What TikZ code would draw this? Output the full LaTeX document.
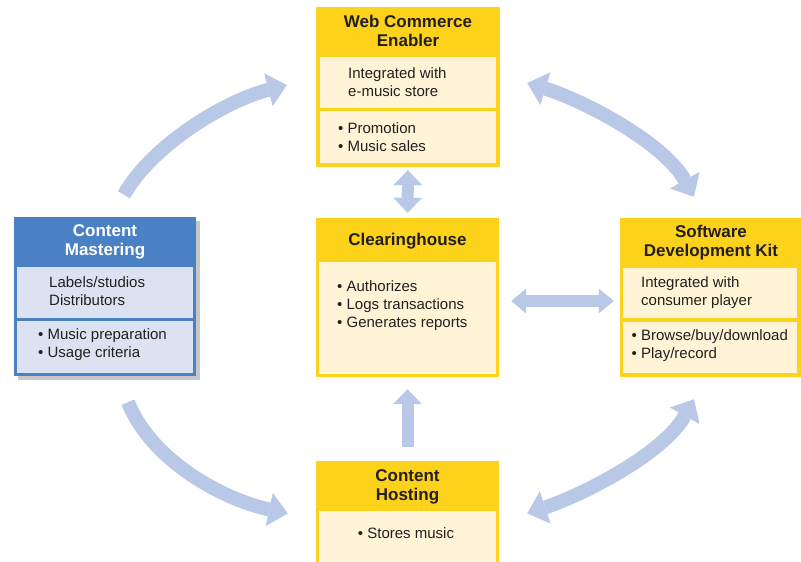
\documentclass[tikz,border=0pt]{standalone}
\usepackage{fontspec}
\setmainfont{Liberation Sans}
\usetikzlibrary{arrows.meta,positioning}

\definecolor{ylw}{HTML}{FDD21B}
\definecolor{cream}{HTML}{FFF4D6}
\definecolor{mblue}{HTML}{4A80C4}
\definecolor{lblue}{HTML}{DCE2F2}
\definecolor{arrowblue}{HTML}{B9C8E6}
\definecolor{ink}{HTML}{231F20}

\tikzset{
  box/.style={fill=ylw, inner sep=0pt},
  sec/.style={fill=cream, inner sep=0pt},
  hdr/.style={font=\fontsize{17}{19}\selectfont\bfseries, align=center, text=ink, inner sep=0pt},
  txt/.style={font=\fontsize{15}{18}\selectfont, align=left, text=ink, inner sep=0pt, anchor=west},
  cflow/.style={draw=arrowblue, line width=14pt, >={Triangle[width=34pt,length=19pt,line width=0pt]}},
  sflow/.style={draw=arrowblue, line width=12pt, >={Triangle[width=29pt,length=15pt,line width=0pt]}}
}

\begin{document}
\begin{tikzpicture}[x=1pt,y=-1pt]
    \useasboundingbox (0,0) rectangle (801,562);
    % web commerce enabler
    \node[box, minimum width=184pt, minimum height=160pt] (web) at (408,87) {};
    \node[hdr] (webH) at (408,31) {Web Commerce\\Enabler};
    \node[sec, minimum width=176pt, minimum height=51pt] (webA) at (408,82.5) {};
    \node[sec, minimum width=176pt, minimum height=52pt] (webB) at (408,137) {};
    \node[txt] (webAt) at (348,82) {Integrated with\\e-music store};
    \node[txt] (webBt) at (338,137) {• Promotion\\• Music sales};
    % clearinghouse
    \node[box, minimum width=183pt, minimum height=159pt] (clr) at (407.5,297.5) {};
    \node[hdr] (clrH) at (407.5,241) {Clearinghouse};
    \node[sec, minimum width=177pt, minimum height=112pt] (clrA) at (407.5,318) {};
    \node[txt] (clrAt) at (337,306) {• Authorizes\\• Logs transactions\\• Generates reports};
    % content hosting
    \node[box, minimum width=183pt, minimum height=105pt] (host) at (407.5,513.5) {};
    \node[hdr] (hostH) at (407.5,486.5) {Content\\Hosting};
    \node[sec, minimum width=177pt, minimum height=55pt] (hostA) at (407.5,538.5) {};
    \node[txt, anchor=center] (hostAt) at (406,533) {• Stores music};
    % software development kit
    \node[box, minimum width=182pt, minimum height=159pt] (sdk) at (711,297.5) {};
    \node[hdr] (sdkH) at (711,242.5) {Software\\Development Kit};
    \node[sec, minimum width=174pt, minimum height=50pt] (sdkA) at (710,293) {};
    \node[sec, minimum width=174pt, minimum height=51pt] (sdkB) at (710,347.5) {};
    \node[txt] (sdkAt) at (641,293) {Integrated with\\consumer player};
    \node[txt] (sdkBt) at (631.5,345.5) {• Browse/buy/download\\• Play/record};
    % content mastering, with its shadow
    \node[box, fill=black!22, minimum width=182pt, minimum height=159pt] (mastS) at (109,300.5) {};
    \node[box, fill=mblue, minimum width=182pt, minimum height=159pt] (mast) at (105,296.5) {};
    \node[hdr, text=white] (mastH) at (105,241.5) {Content\\Mastering};
    \node[sec, fill=lblue, minimum width=176pt, minimum height=51pt] (mastA) at (105,292.5) {};
    \node[sec, fill=lblue, minimum width=176pt, minimum height=52pt] (mastB) at (105,347) {};
    \node[txt] (mastAt) at (49,291.5) {Labels/studios\\Distributors};
    \node[txt] (mastBt) at (38,345) {• Music preparation\\• Usage criteria};
    % curved arrows
    \draw[cflow,->] ([xshift=19pt,yshift=22pt]mast.north) .. controls (152,145) and (225,101) .. ([xshift=-29pt,yshift=2pt]web.west);
    \draw[cflow,<->] ([xshift=27pt,yshift=4pt]web.east) .. controls (585,101) and (664,143) .. ([xshift=-17pt,yshift=21pt]sdk.north);
    \draw[cflow,->] ([xshift=23pt,yshift=-26pt]mast.south) .. controls (152,462) and (225,500) .. ([xshift=-28pt]host.west);
    \draw[cflow,<->] ([xshift=28pt]host.east) .. controls (585,494) and (664,453) .. ([xshift=-17pt,yshift=-22pt]sdk.south);
    % straight arrows
    \draw[sflow,<->,shorten <=3pt,shorten >=5pt] (web.south) -- (clr.north);
    \draw[sflow,<->,shorten <=12pt,shorten >=6pt,>={Triangle[width=25pt,length=15pt,line width=0pt]}] ([yshift=-3.5pt]clr.east) -- ([yshift=-3.5pt]sdk.west);
    \draw[sflow,->,shorten <=14pt,shorten >=12pt] (host.north) -- (clr.south);
\end{tikzpicture}
\end{document}
